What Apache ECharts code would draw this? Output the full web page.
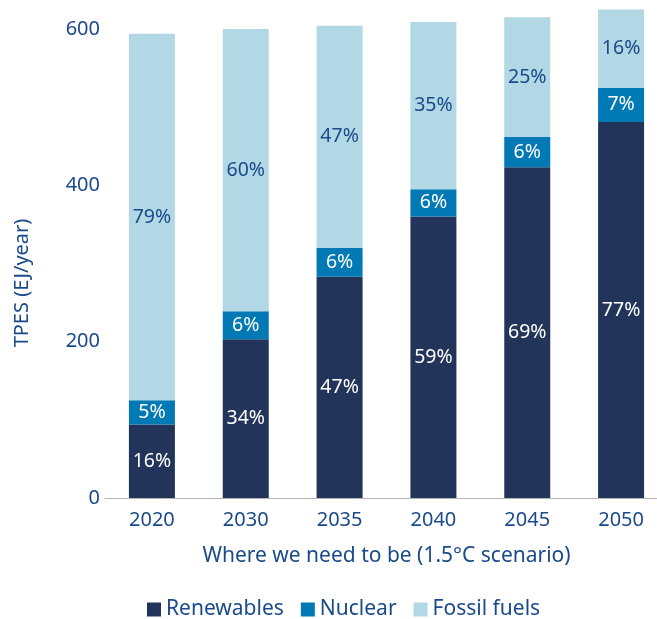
<!DOCTYPE html>
<html>
<head>
<meta charset="utf-8">
<script src="https://cdn.jsdelivr.net/npm/echarts@6/dist/echarts.min.js"></script>
<style>
html,body{margin:0;padding:0;background:#fff;}
#c{width:657px;height:619px;}
</style>
</head>
<body>
<div id="c"></div>
<script>
const categories = ['2020', '2030', '2035', '2040', '2045', '2050'];
const renewables = [94, 203, 283, 360, 423, 481];
const nuclear = [31, 36, 37, 35, 39, 44];
const fossil = [469, 361, 284, 214, 153, 100];
const renewablesPct = ['16%', '34%', '47%', '59%', '69%', '77%'];
const nuclearPct = ['5%', '6%', '6%', '6%', '6%', '7%'];
const fossilPct = ['79%', '60%', '47%', '35%', '25%', '16%'];
const yTicks = [0, 200, 400, 600];

const FONT = 'Noto Sans';
const TEXT = '#1a4a8a';
const chart = echarts.init(document.getElementById('c'), null, {renderer: 'canvas'});

function mkSeries(name, data, pct, color, labelColor) {
  return {
    name: name,
    type: 'bar',
    stack: 'total',
    data: data,
    barWidth: 46,
    clip: false,
    itemStyle: {color: color},
    label: {
      show: true,
      position: 'inside',
      formatter: p => pct[p.dataIndex],
      color: labelColor,
      fontFamily: FONT,
      fontSize: 19.5
    },
    emphasis: {disabled: true}
  };
}

chart.setOption({
  animation: false,
  grid: {left: 105, top: 29, width: 563, height: 469, outerBoundsMode: 'none', containLabel: false},
  legend: {
    left: 142,
    top: 594,
    icon: 'rect',
    itemWidth: 14,
    itemHeight: 14,
    itemGap: 17,
    textStyle: {fontFamily: FONT, fontSize: 21, color: TEXT, padding: [0, 0, 0, 0]},
    data: ['Renewables', 'Nuclear', 'Fossil fuels']
  },
  xAxis: {
    type: 'category',
    data: categories,
    axisLine: {lineStyle: {color: '#b3b3b3', width: 1}},
    axisTick: {show: false},
    axisLabel: {fontFamily: FONT, fontSize: 20, color: TEXT, margin: 12},
    name: 'Where we need to be (1.5°C scenario)',
    nameLocation: 'middle',
    nameGap: 48,
    nameTextStyle: {fontFamily: FONT, fontSize: 21, color: TEXT}
  },
  yAxis: {
    type: 'value',
    min: yTicks[0],
    max: yTicks[yTicks.length - 1],
    interval: 200,
    splitLine: {show: false},
    axisLine: {show: false},
    axisTick: {show: false},
    axisLabel: {fontFamily: FONT, fontSize: 20, color: TEXT, margin: 5}
  },
  graphic: [{
    type: 'text',
    x: 22,
    y: 283,
    rotation: Math.PI / 2,
    style: {
      text: 'TPES (EJ/year)',
      fontFamily: FONT,
      fontSize: 20,
      fill: TEXT,
      align: 'center',
      verticalAlign: 'middle'
    }
  }],
  series: [
    mkSeries('Renewables', renewables, renewablesPct, '#22345a', '#ffffff'),
    mkSeries('Nuclear', nuclear, nuclearPct, '#0079b4', '#ffffff'),
    mkSeries('Fossil fuels', fossil, fossilPct, '#b2d8e5', TEXT)
  ]
});
</script>
</body>
</html>
